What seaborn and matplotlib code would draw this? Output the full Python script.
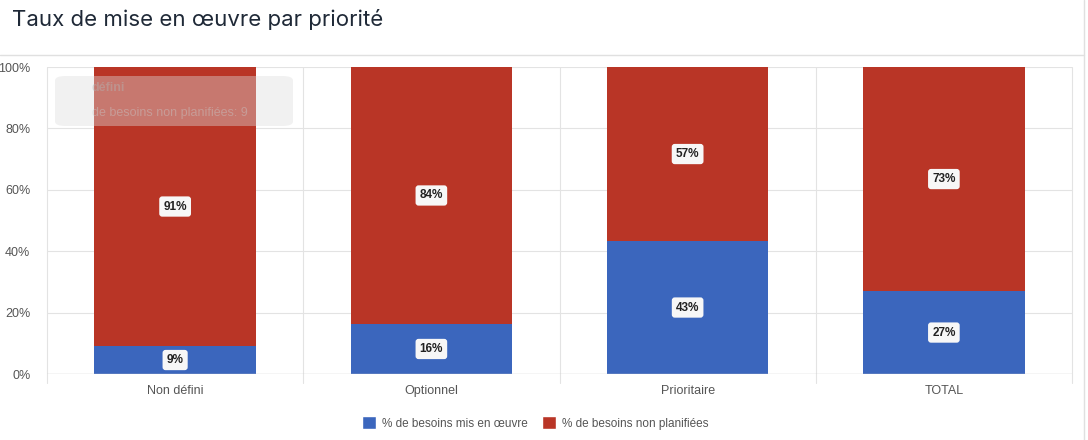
import seaborn as sns
import matplotlib.pyplot as plt
import pandas as pd
from matplotlib.patches import FancyBboxPatch
from matplotlib.lines import Line2D

categories = ['Non défini', 'Optionnel', 'Prioritaire', 'TOTAL']
mis_en_oeuvre = [9.1, 16.3, 43.3, 27.0]
non_planifiees = [90.9, 83.7, 56.7, 73.0]
series_names = ['% de besoins mis en œuvre', '% de besoins non planifiées']
colors = ['#3b66bd', '#b93526']

df = pd.DataFrame({'cat': categories, 'blue': mis_en_oeuvre, 'red': non_planifiees})
df['stack'] = df['blue'] + df['red']

sns.set_theme(style='white')
plt.rcParams['font.family'] = ['Liberation Sans', 'DejaVu Sans']

fig = plt.figure(figsize=(10.88, 4.4), dpi=100)
ax = fig.add_axes([47 / 1088, 66 / 440, 1025 / 1088, 307 / 440])

sns.barplot(data=df, x='cat', y='stack', color=colors[1], width=0.63,
            saturation=1, ax=ax, zorder=2, linewidth=0, edgecolor='none')
sns.barplot(data=df, x='cat', y='blue', color=colors[0], width=0.63,
            saturation=1, ax=ax, zorder=2, linewidth=0, edgecolor='none')

ax.set_ylim(0, 100)
ax.set_xlim(-0.5, 3.5)
ax.set_yticks(range(0, 101, 20))
ax.set_yticklabels([f'{v}%' for v in range(0, 101, 20)])
ax.set_xlabel('')
ax.set_ylabel('')
ax.tick_params(axis='both', labelsize=9, colors='#555555', length=0, pad=8)
ax.tick_params(axis='y', pad=12)
for s in ax.spines.values():
    s.set_visible(False)
for v in range(20, 101, 20):
    ax.axhline(v, color='#e3e3e3', lw=0.8, zorder=0)
ax.axhline(0, color='#cccccc', lw=1, zorder=3)
for x in [-0.5, 0.5, 1.5, 2.5, 3.5]:
    ax.plot([x, x], [-3, 100], color='#e3e3e3', lw=0.8, zorder=0, clip_on=False)

# étiquettes de valeur
box = dict(boxstyle='round,pad=0.35,rounding_size=0.25', fc='#f7f7f7', ec='none')
for i, (b, r) in enumerate(zip(mis_en_oeuvre, non_planifiees)):
    ax.text(i, b / 2, f'{round(b)}%', ha='center', va='center', fontsize=8.5,
            fontweight='bold', color='#222222', bbox=box, zorder=5)
    ax.text(i, b + r / 2, f'{round(r)}%', ha='center', va='center', fontsize=8.5,
            fontweight='bold', color='#222222', bbox=box, zorder=5)

# infobulle estompée
tip = FancyBboxPatch((55 / 1088, (440 - 126) / 440), 238 / 1088, 50 / 440,
                     boxstyle='round,pad=0,rounding_size=0.01',
                     transform=fig.transFigure, fc='#dddddd', ec='none',
                     alpha=0.4, zorder=6)
fig.patches.append(tip)
fig.text(92 / 1088, (440 - 88) / 440, 'défini', fontsize=9, fontweight='bold',
         color='#999999', alpha=0.45, va='center')
fig.text(92 / 1088, (440 - 113) / 440, 'de besoins non planifiées: 9', fontsize=9,
         color='#bbbbbb', alpha=0.45, va='center')

# en-tête
fig.text(12 / 1088, (440 - 20) / 440, 'Taux de mise en œuvre par priorité',
         fontsize=16, color='#1f2937', va='center',
         family=['Inter', 'DejaVu Sans'])
fig.add_artist(Line2D([0, 1084 / 1088], [(440 - 55) / 440] * 2,
                      transform=fig.transFigure, color='#e0e0e0', lw=1))
fig.add_artist(Line2D([1084 / 1088] * 2, [0, 1],
                      transform=fig.transFigure, color='#e0e0e0', lw=1))

handles = [plt.Rectangle((0, 0), 1, 1, fc=c) for c in colors]
fig.legend(handles, series_names, loc='center', bbox_to_anchor=(535 / 1088, (440 - 423) / 440),
           ncol=2, frameon=False, fontsize=8.5, handlelength=1.2, handleheight=1.2,
           handletextpad=0.5, columnspacing=1.2, labelcolor='#555555')

fig.savefig('out.png', dpi=100)
